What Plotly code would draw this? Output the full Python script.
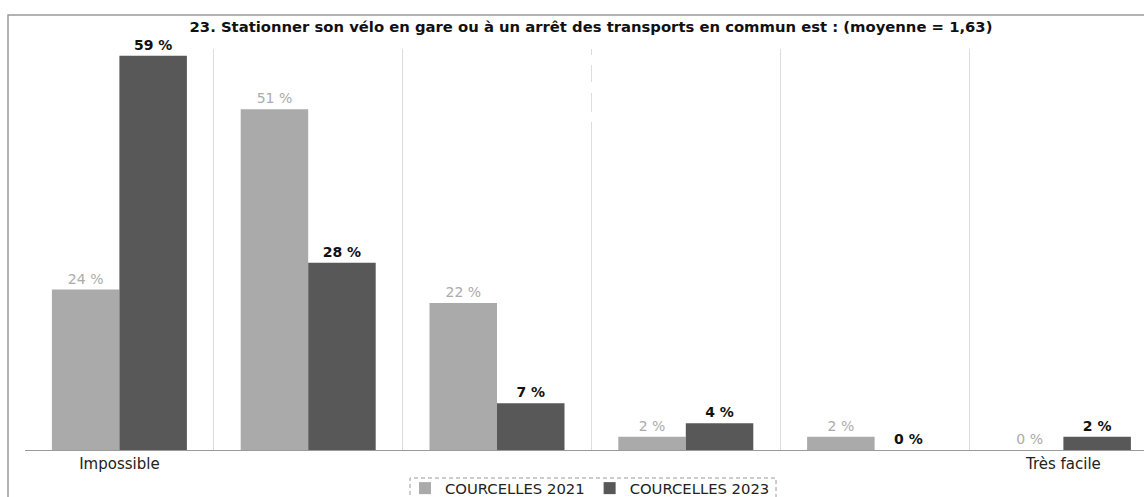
import plotly.graph_objects as go

# Survey answers on a 1 (impossible) to 6 (very easy) scale
categories = ["Impossible", "", "", "", "", "Très facile"]
series_names = ["COURCELLES 2021", "COURCELLES 2023"]
values_2021 = [24, 51, 22, 2, 2, 0]
values_2023 = [59, 28, 7, 4, 0, 2]
title_text = "23. Stationner son vélo en gare ou à un arrêt des transports en commun est : (moyenne = 1,63)"

FONT = "DejaVu Sans, Verdana, sans-serif"
LIGHT = "#aaaaaa"
DARK = "#585858"

W, H = 1144, 497
ML, MR, MT, MB = 25, 0, 49, 47
plot_w = W - ML - MR
plot_h = H - MT - MB


def px_x(p):
    return (p - ML) / plot_w


def px_y(p):
    return (H - MB - p) / plot_h


x = list(range(len(categories)))

fig = go.Figure()
fig.add_trace(go.Bar(
    x=x, y=values_2021, name=series_names[0],
    marker=dict(color=LIGHT, line=dict(width=0)),
    texttemplate="%{y} %", textposition="outside",
    textfont=dict(family=FONT, size=14, color="#ababab"),
    cliponaxis=False,
))
fig.add_trace(go.Bar(
    x=x, y=values_2023, name=series_names[1],
    marker=dict(color=DARK, line=dict(width=0)),
    texttemplate="<b>%{y} %</b>", textposition="outside",
    textfont=dict(family=FONT, size=14, color="#111111"),
    cliponaxis=False,
))

# the category axis runs past the right edge of the page
x_end = -0.5 + plot_w / 188.8

fig.update_layout(
    width=W, height=H,
    margin=dict(l=ML, r=MR, t=MT, b=MB, pad=0, autoexpand=False),
    paper_bgcolor="white", plot_bgcolor="white",
    barmode="group", bargap=0.285, bargroupgap=0,
    font=dict(family=FONT, size=13, color="#222"),
    title=dict(
        text="<b>" + title_text + "</b>",
        x=px_x(591), xref="paper", xanchor="center",
        y=1 - 27 / H, yanchor="middle",
        font=dict(family=FONT, size=14.8, color="#111"),
    ),
    showlegend=True,
    legend=dict(
        orientation="h", x=px_x(590), xanchor="center",
        y=px_y(472), yanchor="top",
        font=dict(family=FONT, size=14.8, color="#222"),
        bgcolor="rgba(0,0,0,0)", borderwidth=0,
        traceorder="normal", itemsizing="constant",
    ),
    xaxis=dict(
        range=[-0.5, x_end],
        tickmode="array", tickvals=x, ticktext=categories,
        showgrid=False, zeroline=False,
        showline=True, linecolor="#9a9a9a", linewidth=1,
        ticks="", ticklen=0, tickfont=dict(family=FONT, size=15, color="#222"),
        minor=dict(tick0=-0.5, dtick=1, showgrid=True,
                   gridcolor="#dcdcdc", gridwidth=1, ticks=""),
    ),
    yaxis=dict(
        range=[0, 60], visible=False, showgrid=False, zeroline=False,
    ),
    shapes=[
        # outer frame of the chart
        dict(type="rect", xref="paper", yref="paper",
             x0=px_x(8), x1=px_x(W + 20), y0=px_y(H + 20), y1=px_y(15),
             line=dict(color="#9a9a9a", width=1.5), fillcolor="rgba(0,0,0,0)",
             layer="below"),
        # dashed box around the legend
        dict(type="rect", xref="paper", yref="paper",
             x0=px_x(410), x1=px_x(776), y0=px_y(H + 20), y1=px_y(478),
             line=dict(color="#9a9a9a", width=1, dash="4px,3px"),
             fillcolor="rgba(0,0,0,0)"),
        # broken upper part of the middle separator
        dict(type="line", xref="x", yref="paper",
             x0=2.5, x1=2.5, y0=px_y(122), y1=1.0,
             line=dict(color="white", width=3,
                       dash="10px,19px,11px,17px,10px,200px"),
             layer="above"),
    ],
)

fig.write_html("out.html")
